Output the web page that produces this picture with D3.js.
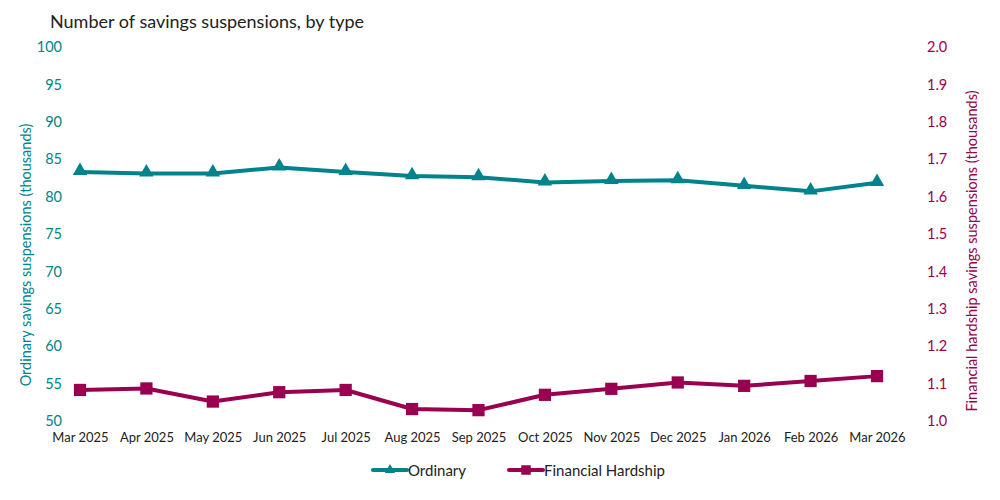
<!DOCTYPE html>
<html>
<head>
<meta charset="utf-8">
<script src="https://cdn.jsdelivr.net/npm/d3@7"></script>
<style>
  html, body { margin: 0; padding: 0; background: #fff; }
  svg { display: block; font-family: Lato, "Open Sans", sans-serif; }
</style>
</head>
<body>
<svg id="chart" width="1000" height="500"></svg>
<script>
// --- data ---
const MONTHS = ['Mar 2025','Apr 2025','May 2025','Jun 2025','Jul 2025','Aug 2025','Sep 2025',
                'Oct 2025','Nov 2025','Dec 2025','Jan 2026','Feb 2026','Mar 2026'];
const ORDINARY = [83.3, 83.1, 83.1, 83.9, 83.3, 82.75, 82.6, 81.9, 82.1, 82.2, 81.45, 80.7, 81.85];
const HARDSHIP = [1.083, 1.087, 1.052, 1.077, 1.083, 1.032, 1.029, 1.070, 1.086, 1.103, 1.094, 1.107, 1.120];
const LEFT_TICKS = [50, 55, 60, 65, 70, 75, 80, 85, 90, 95, 100];
const RIGHT_TICKS = [1.0, 1.1, 1.2, 1.3, 1.4, 1.5, 1.6, 1.7, 1.8, 1.9, 2.0];

const TEAL = '#00838c';
const MAROON = '#9a0050';
const INK = '#222';

const svg = d3.select('#chart');
const plotTop = 47, plotBottom = 421, plotLeft = 80, plotRight = 877;

const x = d3.scalePoint().domain(MONTHS).range([plotLeft, plotRight]);
const yL = d3.scaleLinear().domain([50, 100]).range([plotBottom, plotTop]);
const yR = d3.scaleLinear().domain([1.0, 2.0]).range([plotBottom, plotTop]);

// title
svg.append('text')
  .attr('x', 50).attr('y', 28)
  .attr('font-size', 18).attr('fill', INK)
  .text('Number of savings suspensions, by type');

// left axis
const axL = svg.append('g').attr('transform', `translate(${plotLeft - 18},0)`)
  .call(d3.axisLeft(yL).tickValues(LEFT_TICKS).tickSize(0).tickPadding(0));
axL.select('.domain').remove();
axL.selectAll('text').attr('fill', TEAL).attr('font-size', 14.5).attr('font-family', 'Lato, sans-serif');

// right axis
const axR = svg.append('g').attr('transform', `translate(${plotRight + 50},0)`)
  .call(d3.axisRight(yR).tickValues(RIGHT_TICKS).tickSize(0).tickPadding(0).tickFormat(d3.format('.1f')));
axR.select('.domain').remove();
axR.selectAll('text').attr('fill', MAROON).attr('font-size', 14.5).attr('font-family', 'Lato, sans-serif');

// bottom axis
const axB = svg.append('g').attr('transform', `translate(0,${plotBottom + 12})`)
  .call(d3.axisBottom(x).tickSize(0).tickPadding(0));
axB.select('.domain').remove();
axB.selectAll('text').attr('fill', INK).attr('font-size', 13).attr('font-family', 'Lato, sans-serif');

// axis titles
svg.append('text')
  .attr('transform', `translate(31,255) rotate(-90)`)
  .attr('text-anchor', 'middle').attr('font-size', 14.5).attr('fill', TEAL)
  .text('Ordinary savings suspensions (thousands)');
svg.append('text')
  .attr('transform', `translate(977,251) rotate(-90)`)
  .attr('text-anchor', 'middle').attr('font-size', 14.5).attr('fill', MAROON)
  .text('Financial hardship savings suspensions (thousands)');

// lines
const lineL = d3.line().x((d, i) => x(MONTHS[i])).y(d => yL(d));
const lineR = d3.line().x((d, i) => x(MONTHS[i])).y(d => yR(d));

svg.append('path').attr('d', lineL(ORDINARY))
  .attr('fill', 'none').attr('stroke', TEAL).attr('stroke-width', 4).attr('stroke-linejoin', 'round');
svg.append('path').attr('d', lineR(HARDSHIP))
  .attr('fill', 'none').attr('stroke', MAROON).attr('stroke-width', 4).attr('stroke-linejoin', 'round');

const tri = d3.symbol().type(d3.symbolTriangle).size(90);
const sq = d3.symbol().type(d3.symbolSquare).size(150);

svg.append('g').selectAll('path').data(ORDINARY).join('path')
  .attr('d', tri)
  .attr('transform', (d, i) => `translate(${x(MONTHS[i])},${yL(d) - 1})`)
  .attr('fill', TEAL);
svg.append('g').selectAll('path').data(HARDSHIP).join('path')
  .attr('d', sq)
  .attr('transform', (d, i) => `translate(${x(MONTHS[i])},${yR(d)})`)
  .attr('fill', MAROON);

// legend
const legend = [
  { label: 'Ordinary', color: TEAL, sym: d3.symbol().type(d3.symbolTriangle).size(45), x: 373 },
  { label: 'Financial Hardship', color: MAROON, sym: d3.symbol().type(d3.symbolSquare).size(90), x: 509 }
];
const lg = svg.append('g').selectAll('g').data(legend).join('g')
  .attr('transform', d => `translate(${d.x},470)`);
lg.append('line').attr('x1', 0).attr('x2', 34).attr('y1', 0).attr('y2', 0)
  .attr('stroke', d => d.color).attr('stroke-width', 4).attr('stroke-linecap', 'round');
lg.append('path').attr('d', d => d.sym()).attr('transform', 'translate(17,0)').attr('fill', d => d.color);
lg.append('text').attr('x', 35).attr('y', 5.5).attr('font-size', 15).attr('fill', INK)
  .text(d => d.label);
</script>
</body>
</html>
